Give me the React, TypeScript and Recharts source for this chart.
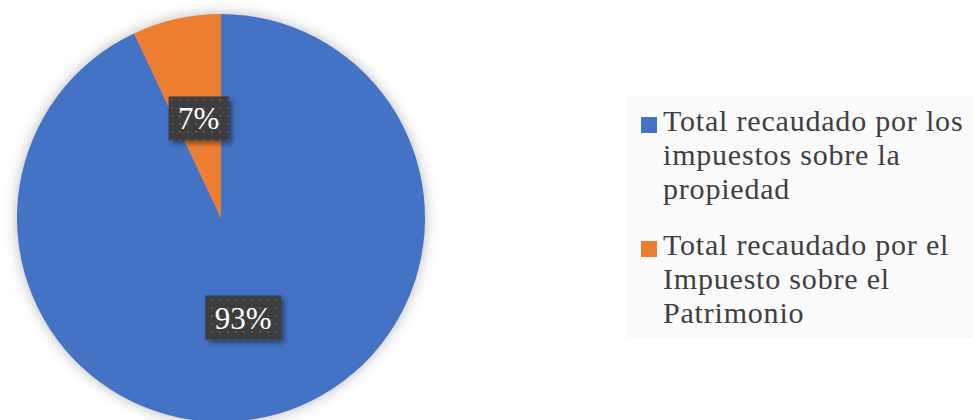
import { PieChart, Pie, Cell, Legend } from "recharts";

// Shares of property tax revenue
const categories = [
  "Total recaudado por los\nimpuestos sobre la\npropiedad",
  "Total recaudado por el\nImpuesto sobre el\nPatrimonio",
];
const shares = [93, 7];
const colors = ["#4472C4", "#ED7D31"];

const data = categories.map((name, i) => ({ name, value: shares[i] }));

const RADIAN = Math.PI / 180;
const SERIF = "'Liberation Serif', 'Times New Roman', Tinos, Times, serif";

function renderLabel(props: any) {
  const { cx, cy, midAngle, outerRadius, value } = props;
  const r = outerRadius * 0.5;
  const x = cx + r * Math.cos(-midAngle * RADIAN);
  const y = cy + r * Math.sin(-midAngle * RADIAN);
  const text = `${value}%`;
  const digits = String(value).length;
  const w = 19 + 31 * (0.5 * digits + 0.833);
  const h = 44;
  return (
    <g>
      <rect
        x={x - w / 2}
        y={y - h / 2}
        width={w}
        height={h}
        fill="url(#dots)"
        filter="url(#boxShadow)"
      />
      <text
        x={x}
        y={y + 11}
        textAnchor="middle"
        fill="#ffffff"
        style={{ fontFamily: SERIF, fontSize: 31 }}
      >
        {text}
      </text>
    </g>
  );
}

function LegendBox() {
  return (
    <div
      style={{
        width: 346,
        height: 242,
        background: "#fafafa",
        boxSizing: "border-box",
        paddingTop: 8,
        fontFamily: SERIF,
        fontSize: 30,
        lineHeight: "34px",
        color: "#404040",
        letterSpacing: 0.8,
      }}
    >
      {data.map((d, i) => (
        <div key={i} style={{ display: "flex", alignItems: "flex-start", marginBottom: i === 0 ? 22 : 0 }}>
          <div
            style={{
              width: 16,
              height: 16,
              background: colors[i],
              marginLeft: 14,
              marginTop: 13,
              marginRight: 6,
              flexShrink: 0,
            }}
          />
          <div style={{ whiteSpace: "pre-line" }}>{d.name}</div>
        </div>
      ))}
    </div>
  );
}

export default function App() {
  return (
    <div style={{ position: "absolute", left: 0, top: 0, width: 973, height: 420, background: "#ffffff", overflow: "hidden" }}>
      <style>{`.recharts-pie > .recharts-layer:first-child { filter: drop-shadow(0 0 7px rgba(0,0,0,0.28)); }`}</style>
      <PieChart width={973} height={420} margin={{ top: 0, right: 0, bottom: 0, left: 0 }}>
        <defs>
          <pattern id="dots" width="8" height="8" patternUnits="userSpaceOnUse">
            <rect width="8" height="8" fill="#3d3d3d" />
            <rect x="3" y="3" width="2" height="2" fill="#575757" />
          </pattern>
          <filter id="boxShadow" x="-20%" y="-20%" width="150%" height="160%">
            <feDropShadow dx="3" dy="3" stdDeviation="2.5" floodColor="#000000" floodOpacity="0.45" />
          </filter>
        </defs>
        <Pie
          data={data}
          dataKey="value"
          nameKey="name"
          cx={221}
          cy={218}
          outerRadius={204}
          startAngle={90}
          endAngle={-270}
          stroke="none"
          label={renderLabel}
          labelLine={false}
          isAnimationActive={false}
        >
          {data.map((_, i) => (
            <Cell key={i} fill={colors[i]} />
          ))}
        </Pie>
        <Legend
          layout="vertical"
          verticalAlign="top"
          align="right"
          content={() => <LegendBox />}
          wrapperStyle={{ left: 627, top: 96, width: 346, height: 242, right: "auto", bottom: "auto" }}
        />
      </PieChart>
    </div>
  );
}
